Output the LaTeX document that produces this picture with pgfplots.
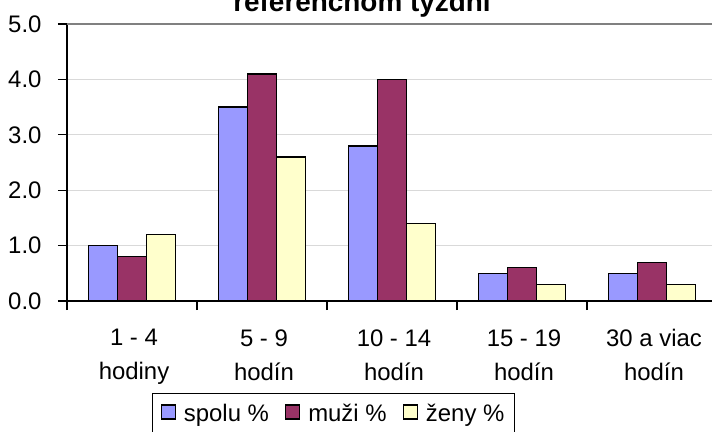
\documentclass[border=0pt]{standalone}
\usepackage{pgfplots}
\pgfplotsset{compat=1.18}
\usepackage{fontspec}
\setmainfont{Liberation Sans}
\definecolor{cSpolu}{HTML}{9999FF}
\definecolor{cMuzi}{HTML}{993366}
\definecolor{cZeny}{HTML}{FFFFCC}
\definecolor{cGrid}{HTML}{D9D9D9}
\begin{document}
\begin{tikzpicture}
\useasboundingbox (0,0) rectangle (712bp,432bp);
\node[font=\fontsize{28}{30}\selectfont\bfseries, anchor=base] at (362bp,420bp) {referenčnom týždni};
\begin{axis}[
  at={(67bp,131bp)}, anchor=south west,
  scale only axis, width=650bp, height=277bp,
  xmin=-0.5, xmax=4.5, ymin=0, ymax=5,
  ybar=0pt, bar width=29bp,
  axis lines*=left,
  axis line style={line width=1.3bp, black},
  xtick={0,1,2,3,4},
  xticklabels={{1 - 4\\hodiny},{5 - 9\\hodín},{10 - 14\\hodín},{15 - 19\\hodín},{30 a viac\\hodín}},
  major x tick style={draw=none},
  minor xtick={-0.5,0.5,1.5,2.5,3.5,4.5},
  xtick align=outside, ytick align=outside,
  ytick={0,1,2,3,4,5},
  ymajorgrids,
  grid style={line width=0.8bp, cGrid},
  tick style={black, line width=1.3bp},
  major tick length=9bp, minor tick length=9bp,
  xticklabel style={align=center, font=\fontsize{24}{34}\selectfont, yshift=-16bp, xshift=2bp},
  yticklabel style={font=\fontsize{24}{28}\selectfont, xshift=-13bp},
  /pgf/number format/.cd, fixed, fixed zerofill, precision=1, assume math mode=true,
  /pgfplots/.cd,
  legend columns=3,
  legend style={at={(0.41,-0.3321)}, anchor=north, draw=black, line width=1.3bp,
    font=\fontsize{24}{28}\selectfont, inner xsep=8bp, inner ysep=8bp,
    /tikz/every odd column/.append style={column sep=6bp},
    /tikz/every even column/.append style={column sep=14bp}},
  legend image code/.code={\draw[#1, line width=1.3bp] (0bp,-6bp) rectangle (14bp,8bp);},
]
\addplot[draw=black, line width=1.3bp, fill=cSpolu] coordinates {(0,1.0) (1,3.5) (2,2.8) (3,0.5) (4,0.5)};
\addplot[draw=black, line width=1.3bp, fill=cMuzi] coordinates {(0,0.8) (1,4.1) (2,4.0) (3,0.6) (4,0.7)};
\addplot[draw=black, line width=1.3bp, fill=cZeny] coordinates {(0,1.2) (1,2.6) (2,1.4) (3,0.3) (4,0.3)};
\legend{spolu \%, muži \%, ženy \%}
\draw[gray, line width=1.3bp] (axis cs:-0.5,5) -- (axis cs:4.5,5);
\end{axis}
\end{tikzpicture}
\end{document}
